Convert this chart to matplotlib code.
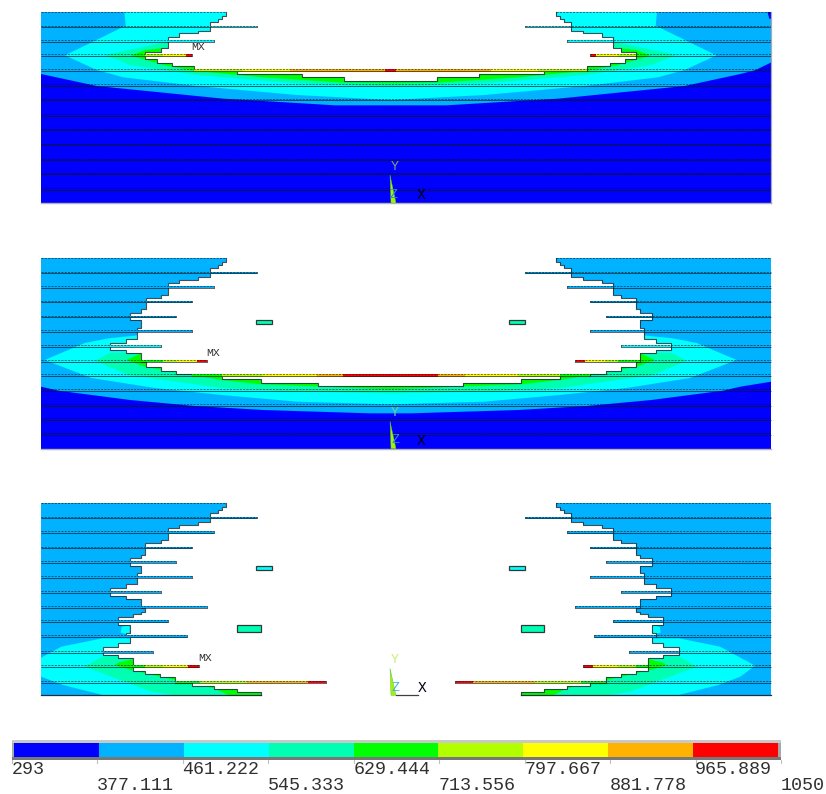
import matplotlib
matplotlib.use("Agg")
import matplotlib.pyplot as plt
from matplotlib.path import Path
from matplotlib.patches import PathPatch, Polygon, Rectangle

# ---- legend data
levels = [293, 377.111, 461.222, 545.333, 629.444, 713.556, 797.667, 881.778, 965.889, 1050]
level_labels = ["293", "377.111", "461.222", "545.333", "629.444", "713.556", "797.667", "881.778", "965.889", "1050"]
band_colors = ["#0000ff", "#00b2ff", "#00ffff", "#00ffb2", "#00ff00", "#b2ff00", "#ffff00", "#ffb200", "#ff0000"]

# ---- model geometry (half model, mirrored about the Y axis)
panel_offsets = [0, 245, 490]
panel_bottoms = [609, 611, 616]
panel_base = [0, 0, 1]

profile_1 = [(587,35),(587,47),(575,47),(575,57),(563,57),(563,67),(540,67),(540,92),(505,92),(505,100),
             (448,100),(448,110),(415,110),(415,145),(392,145),(392,155),(345,155),(345,178),(380,178),(380,190),
             (425,190),(425,198),(493,198),(493,214),(622,214),(622,223),(817,223),(817,232),(943,232),(943,243),(1082,243)]
profile_2 = [(587,38),(587,50),(575,50),(575,60),(563,60),(563,70),(540,70),(540,95),(505,95),(505,105),
             (448,105),(448,115),(415,115),(415,150),(392,150),(392,160),(347,160),(347,193),(333,193),(333,203),
             (299,203),(299,226),(333,226),(333,248),(322,248),(322,283),(287,283),(287,293),(241,293),(241,315),
             (287,315),(287,325),(333,325),(333,350),(347,350),(347,367),(392,367),(392,378),(437,378),(437,388),
             (485,388),(485,394),(575,394),(575,403),(692,403),(692,413),(865,413),(865,423),(1082,423)]
profile_3 = [(587,38),(587,50),(575,50),(575,60),(563,60),(563,70),(540,70),(540,95),(505,95),(505,105),
             (448,105),(448,115),(415,115),(415,150),(392,150),(392,160),(345,160),(345,195),(333,195),(333,205),
             (299,205),(299,228),(333,228),(333,248),(322,248),(322,283),(287,283),(287,293),(241,293),(241,318),
             (287,318),(287,327),(333,327),(333,353),(345,353),(345,367),(333,367),(333,373),(310,373),(310,381),
             (265,381),(265,405),(299,405),(299,428),(287,428),(287,442),(299,442),(299,460),(265,460),(265,472),
             (218,472),(218,495),(265,495),(265,505),(310,505),(310,542),(345,542),(345,552),(390,552),(390,562),
             (436,562),(436,578),(485,578),(485,588),(553,588),(553,597),(622,597),(622,606),(692,606),(692,616)]
profiles = [profile_1, profile_2, profile_3]

# contour boundaries: (colour index, boundary from the outer edge towards the centre)
bands_1 = [(1, [(-48,35),(-54,57),(-60,55),(-60,187),(-13,210),(33,222),(200,258),(580,296),(650,300),(915,316),(1082,316)]),
           (2, [(283,35),(287,77),(105,166),(200,210),(280,232),(500,258),(800,285),(1082,300)]),
           (3, [(415,125),(225,165),(300,195),(500,225),(800,250),(1082,260)]),
           (4, [(415,143),(345,150),(303,167),(400,195),(490,212),(700,232),(940,248),(1082,250)])]
bands_2 = [(1, [(-60,35),(-60,410),(33,425),(85,437),(300,465),(494,483),(700,495),(1020,505),(1082,505)]),
           (2, [(333,270),(235,280),(164,294),(44,345),(184,399),(374,429),(574,450),(800,470),(1082,478)]),
           (3, [(333,322),(239,324),(194,347),(295,390),(574,429),(800,440),(1082,445)]),
           (4, [(333,325),(289,345),(344,365),(484,390),(574,405),(692,418),(1082,433)])]
bands_3 = [(2, [(299,405),(275,410),(272,428),(299,435)]),
           (2, [(299,445),(217,445),(94,470),(-11,527),(33,560),(99,585),(230,618),(700,620),(700,445)]),
           (3, [(310,500),(217,500),(164,530),(364,605),(449,618),(700,620),(700,500)]),
           (4, [(310,507),(265,518),(254,525),(304,540),(434,570),(550,594),(600,618),(700,620),(700,507)])]
bands = [bands_1, bands_2, bands_3]

# layers: top, bottom, free end of the fin (None = runs through the whole width)
layers_1 = [(35,35,587),(77,80,680),(120,126,553),(163,169,485),(208,214,1082),(252,259,None),(297,301,None),
            (343,347,None),(386,391,None),(431,436,None),(476,480,None),(518,523,None),(564,569,None)]
layers_2 = [(38,38,587),(80,85,680),(122,128,553),(167,172,485),(212,217,437),(255,261,485),(301,305,392),
            (345,350,530),(388,394,1082),(433,437,None),(478,483,None),(520,526,None),(565,571,None)]
layers_3 = [(38,38,587),(80,85,680),(123,130,553),(170,175,485),(213,218,437),(258,264,485),(303,308,392),
            (348,353,530),(390,397,415),(436,442,472),(482,488,368),(525,532,506),(572,578,888)]
layers = [layers_1, layers_2, layers_3]

# fin colouring: top, bottom, x start, x stop, colour index
fins_1 = [(77,80,540,680,2),(120,126,415,553,2),(163,169,345,400,5),(163,169,400,467,6),(163,169,467,485,8),
          (208,214,493,640,5),(208,214,640,780,6),(208,214,780,1065,7),(208,214,1065,1082,8)]
fins_2 = [(80,85,540,680,1),(122,128,415,553,1),(167,172,347,485,1),(212,217,299,437,1),(255,261,322,485,1),
          (301,305,241,392,2),(345,350,333,400,4),(345,350,400,440,5),(345,350,440,500,6),(345,350,500,530,8),
          (388,394,485,575,4),(388,394,575,700,5),(388,394,700,860,6),(388,394,860,940,7),(388,394,940,1082,8)]
fins_3 = [(80,85,540,680,1),(123,130,415,553,1),(170,175,345,485,1),(213,218,299,437,1),(258,264,322,485,1),
          (303,308,241,392,1),(348,353,333,530,1),(390,397,265,415,1),(436,442,287,472,1),(482,488,218,368,1),
          (525,532,310,345,4),(525,532,345,400,5),(525,532,400,475,6),(525,532,475,506,8),
          (572,578,436,510,4),(572,578,510,650,5),(572,578,650,835,7),(572,578,835,888,8)]
fins = [fins_1, fins_2, fins_3]

# detached islands: x0, y0, x1, y1, colour index
islands = [[], [(679,226,727,236,3)], [(679,229,727,239,2),(622,406,692,427,3)]]

# labels: MX position, Y, Z, X positions with colours
mx_pos = [(198,47), (213,353), (205,658)]
y_label = [(395,167,"#7fa080"), (395,413,"#70d0a0"), (395,660,"#c8f070")]
z_label = [(394,195,"#2090e0"), (395,440,"#2090e0"), (395,688,"#40b0f0")]
x_label = [(421,195), (421,441), (422,688)]
triad_tips = [525, 529, 535]

CENTER = 390.7
LEFT_Z, RIGHT_Z = 33, -60


def zx(v):
    return 30 + v / 3


def mir(v):
    return 2 * CENTER - v


def pts(seq, off):
    return [(zx(a), off + b / 3) for a, b in seq]


fig = plt.figure(figsize=(8.26, 7.94), dpi=100, facecolor="white")
ax = fig.add_axes([0, 0, 1, 1])
ax.set_xlim(0, 826)
ax.set_ylim(794, 0)
ax.axis("off")
MONO = "Liberation Mono"
LEFT, RIGHT = zx(LEFT_Z), mir(zx(RIGHT_Z))
EDGE = "#20303a"

for i, off in enumerate(panel_offsets):
    prof = pts(profiles[i], off)
    mprof = [(mir(x), y) for x, y in prof]
    top = prof[0][1]
    bot = off + panel_bottoms[i] / 3
    through = profiles[i][-1][0] == 1082
    if through:
        outline = [(LEFT, top)] + prof + mprof[::-1] + [(RIGHT, top), (RIGHT, bot), (LEFT, bot)]
        solid = Path(outline + [outline[0]], closed=True)
    else:
        lft = [(LEFT, top)] + prof + [(LEFT, bot)]
        rgt = [(RIGHT, top)] + mprof + [(RIGHT, bot)]
        solid = Path.make_compound_path(Path(lft + [lft[0]], closed=True), Path(rgt + [rgt[0]], closed=True))

    ax.add_patch(PathPatch(solid, fc=band_colors[panel_base[i]], ec="none", lw=0, zorder=1))
    for cidx, bd in bands[i]:
        b = pts(bd, off)
        mb = [(mir(x), y) for x, y in b]
        poly_sets = [b + mb[::-1]] if through else [b, mb]
        for ps in poly_sets:
            pg = Polygon(ps, closed=True, fc=band_colors[cidx], ec="none", lw=0, zorder=2)
            ax.add_patch(pg)
            pg.set_clip_path(solid, ax.transData)

    # stepped free edge of the slab
    if through:
        ax.plot(*zip(*(prof + mprof[::-1])), color=EDGE, lw=0.8, alpha=0.85, zorder=3)
    else:
        ax.plot(*zip(*prof), color=EDGE, lw=0.8, alpha=0.85, zorder=3)
        ax.plot(*zip(*mprof), color=EDGE, lw=0.8, alpha=0.85, zorder=3)
        ax.plot([LEFT, prof[-1][0]], [bot, bot], color=EDGE, lw=0.9, zorder=3)
        ax.plot([mprof[-1][0], RIGHT], [bot, bot], color=EDGE, lw=0.9, zorder=3)

    # free fins
    for yt, yb, x0, x1, c in fins[i]:
        for sx in (1, -1):
            a, b = zx(x0), zx(x1)
            if sx < 0:
                a, b = mir(b), mir(a)
            ax.add_patch(Rectangle((a, off + yt / 3), b - a, (yb - yt) / 3 + 0.4, fc=band_colors[c], ec="none", zorder=4))

    # islands
    for x0, y0, x1, y1, c in islands[i]:
        for sx in (1, -1):
            a, b = zx(x0), zx(x1)
            if sx < 0:
                a, b = mir(b), mir(a)
            ax.add_patch(Rectangle((a, off + y0 / 3), b - a, (y1 - y0) / 3, fc=band_colors[c], ec="#303838", lw=0.9, zorder=5))

    # layer lines
    for yt, yb, end in layers[i]:
        ytp, ybp = off + yt / 3, off + yb / 3
        spans = [(LEFT, RIGHT)] if end is None else [(LEFT, zx(end)), (mir(zx(end)), RIGHT)]
        for a, b in spans:
            ax.plot([a, b], [ytp, ytp], color="#101018", lw=0.7, ls=(0, (2.2, 1.2)), alpha=0.55, zorder=6)
            if yb > yt:
                ax.plot([a, b], [ybp, ybp], color="#101820", lw=0.75, alpha=0.65, zorder=6, solid_capstyle="butt")
            if end is not None and end != 1082 and yb > yt:
                ax.plot([a if a != LEFT else b] * 2, [ytp, ybp], color="#404848", lw=0.6, zorder=6)

    # bottom and right frame of the model
    if through:
        ax.plot([LEFT, RIGHT], [bot + 0.4, bot + 0.4], color="#b0b0c0", lw=1.0, zorder=6)
    if i == 0:
        ax.plot([RIGHT, RIGHT], [top, bot], color="#a8a8b8", lw=0.9, zorder=6)

    # coordinate triad
    ax.add_patch(Polygon([(zx(1080), off + triad_tips[i] / 3), (zx(1083), bot), (zx(1098), bot)],
                         closed=True, fc="#a8f000", ec="#50c040", lw=0.3, zorder=7))
    yx, yy, yc = y_label[i]
    zx_, zy_, zc = z_label[i]
    xx, xy = x_label[i]
    ax.text(yx, yy, "Y", color=yc, family=MONO, fontsize=9.5, ha="center", va="center", zorder=8)
    ax.text(zx_, zy_, "Z", color=zc, family=MONO, fontsize=9.5, ha="center", va="center", zorder=8)
    ax.text(xx, xy, "X", color="#000010", family=MONO, fontsize=10.5, ha="center", va="center", zorder=8)
    if i == 2:
        ax.plot([396, 418], [bot, bot], color="#404040", lw=0.9, zorder=7)
    ax.text(mx_pos[i][0], mx_pos[i][1], "MX", color="#303030", family=MONO, fontsize=8.2, ha="center", va="center", zorder=8)

# ---- colour bar
BAR_X0, BAR_X1 = 14, 778
FRAME_X0, FRAME_X1 = 12, 781
def frac(v):
    return (v - levels[0]) / (levels[-1] - levels[0])
def lx(v):
    return BAR_X0 + frac(v) * (BAR_X1 - BAR_X0)
def tx(v):
    return FRAME_X0 + frac(v) * (FRAME_X1 - FRAME_X0)

ax.add_patch(Rectangle((FRAME_X0, 739.5), FRAME_X1 - FRAME_X0, 4, fc="#c8c8c8", ec="none", zorder=1))
ax.add_patch(Rectangle((FRAME_X0, 756.5), FRAME_X1 - FRAME_X0, 3.5, fc="#787878", ec="none", zorder=1))
ax.add_patch(Rectangle((FRAME_X0, 743), 2, 14, fc="#a8a8a8", ec="none", zorder=1))
ax.add_patch(Rectangle((BAR_X1, 743), 3, 14, fc="#a8a8a8", ec="none", zorder=1))
for k, col in enumerate(band_colors):
    a, b = lx(levels[k]), lx(levels[k + 1])
    ax.add_patch(Rectangle((a, 743), b - a, 14, fc=col, ec="none", zorder=2))
for k, (v, s) in enumerate(zip(levels, level_labels)):
    ax.plot([tx(v)] * 2, [760, 763], color="#c0c0c0", lw=0.8, zorder=1)
    ax.text(tx(v) - 0.5, 770 if k % 2 == 0 else 786, s, family=MONO, fontsize=13.2, color="#303030",
            ha="left", va="center")

fig.savefig("out.png", dpi=100, facecolor="white")
